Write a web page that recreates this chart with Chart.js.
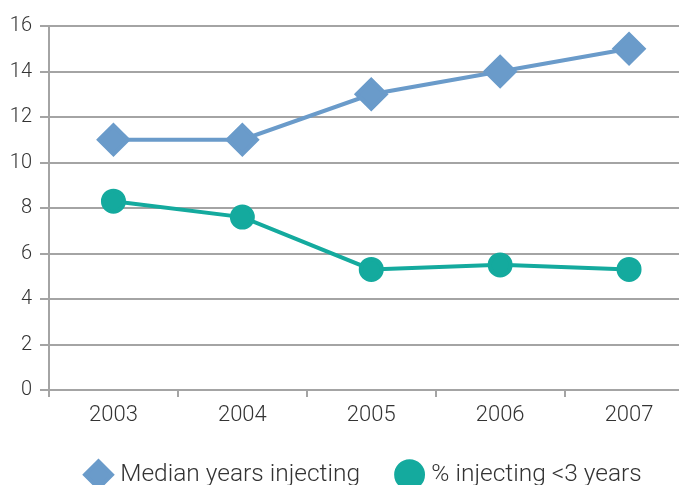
<!DOCTYPE html>
<html>
<head>
<meta charset="utf-8">
<script src="https://cdn.jsdelivr.net/npm/chart.js@4/dist/chart.umd.min.js"></script>
<style>
  html, body { margin: 0; padding: 0; background: #ffffff; overflow: hidden; width: 679px; height: 485px; }
  #wrap { position: absolute; left: 0; top: 0; width: 712px; height: 497px; }
</style>
</head>
<body>
<div id="wrap"><canvas id="chart" width="712" height="497"></canvas></div>
<script>
// Injecting history among survey respondents, 2003–2007
const years = ['2003', '2004', '2005', '2006', '2007'];
const medianYearsInjecting = [11, 11, 13, 14, 15];
const pctInjectingUnder3 = [8.3, 7.6, 5.3, 5.5, 5.3];
const yTicks = [0, 2, 4, 6, 8, 10, 12, 14, 16];

const BLUE = '#6a9bca';
const TEAL = '#14aa9e';
const GRID = '#a4a4a4';
const TEXT = '#333333';
const FONT = 'Roboto, "Liberation Sans", Arial, sans-serif';

new Chart(document.getElementById('chart'), {
  type: 'line',
  data: {
    labels: years,
    datasets: [
      {
        label: 'Median years injecting',
        data: medianYearsInjecting,
        borderColor: BLUE,
        backgroundColor: BLUE,
        pointBackgroundColor: BLUE,
        pointBorderColor: BLUE,
        pointStyle: 'rectRot',
        pointRadius: 14.5,
        pointHoverRadius: 14.5,
        borderWidth: 4,
        tension: 0
      },
      {
        label: '% injecting <3 years',
        data: pctInjectingUnder3,
        borderColor: TEAL,
        backgroundColor: TEAL,
        pointBackgroundColor: TEAL,
        pointBorderColor: TEAL,
        pointStyle: 'circle',
        pointRadius: 10.5,
        pointHoverRadius: 10.5,
        borderWidth: 4,
        tension: 0
      }
    ]
  },
  options: {
    responsive: false,
    animation: false,
    events: [],
    layout: { padding: { left: 0, right: 6, top: 26, bottom: 0 } },
    plugins: {
      tooltip: { enabled: false },
      legend: {
        position: 'bottom',
        fullSize: false,
        align: 'start',
        labels: {
          usePointStyle: true,
          boxWidth: 19,
          boxHeight: 19,
          padding: 40,
          color: TEXT,
          font: { family: FONT, size: 24.5, weight: '300' }
        }
      }
    },
    scales: {
      x: {
        offset: true,
        afterFit: (axis) => { axis.height = 32.5; },
        grid: {
          display: true,
          drawOnChartArea: false,
          drawTicks: true,
          tickLength: 7,
          offset: true,
          color: GRID,
          lineWidth: 2
        },
        border: { display: true, color: GRID, width: 2 },
        ticks: {
          color: TEXT,
          padding: 7,
          font: { family: FONT, size: 22, weight: '300', lineHeight: 1.0 }
        }
      },
      y: {
        min: 0,
        max: 16,
        afterBuildTicks: (axis) => { axis.ticks = yTicks.map(v => ({ value: v })); },
        afterFit: (axis) => { axis.width = 49; },
        grid: {
          color: GRID,
          lineWidth: 2,
          tickLength: 9
        },
        border: { display: true, color: GRID, width: 2 },
        ticks: {
          color: TEXT,
          padding: 8,
          font: { family: FONT, size: 20, weight: '300' }
        }
      }
    }
  }
});
</script>
</body>
</html>
